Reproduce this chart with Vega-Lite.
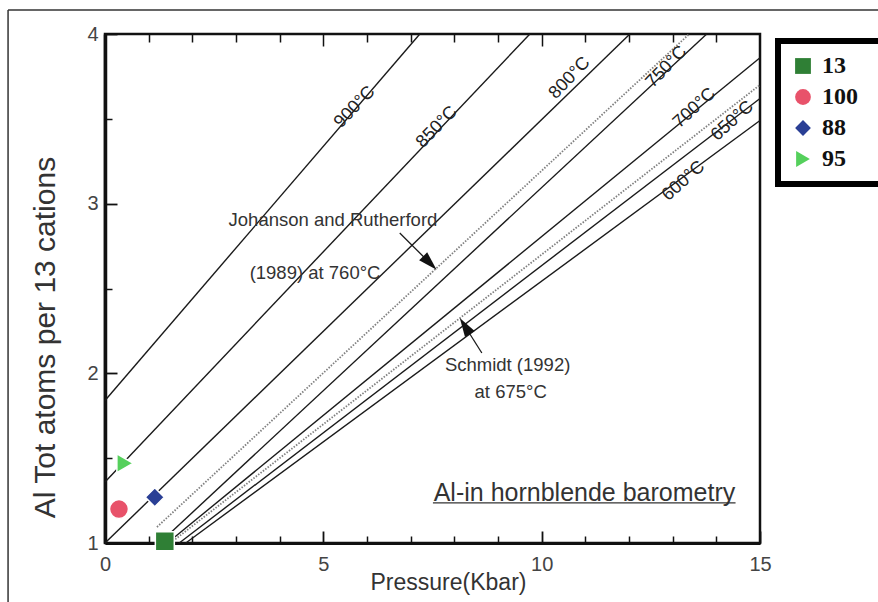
{
  "$schema": "https://vega.github.io/schema/vega-lite/v6.json",
  "width": 655,
  "height": 509,
  "autosize": {"type": "none"},
  "padding": {"left": 105, "top": 34, "right": 118, "bottom": 59},
  "background": "white",
  "resolve": {"axis": {"x": "independent", "y": "independent"}},
  "datasets": {
    "lines": [
      {"line": "900", "kind": "isotherm", "P": 0, "Al": 1.84},
      {"line": "900", "kind": "isotherm", "P": 7.21, "Al": 4},
      {"line": "850", "kind": "isotherm", "P": 0, "Al": 1.36},
      {"line": "850", "kind": "isotherm", "P": 9.73, "Al": 4},
      {"line": "800", "kind": "isotherm", "P": 0, "Al": 1.0},
      {"line": "800", "kind": "isotherm", "P": 12.02, "Al": 4},
      {"line": "750", "kind": "isotherm", "P": 1.25, "Al": 1.0},
      {"line": "750", "kind": "isotherm", "P": 13.78, "Al": 4},
      {"line": "700", "kind": "isotherm", "P": 1.43, "Al": 1.0},
      {"line": "700", "kind": "isotherm", "P": 15, "Al": 3.86},
      {"line": "650", "kind": "isotherm", "P": 1.7, "Al": 1.0},
      {"line": "650", "kind": "isotherm", "P": 15, "Al": 3.62},
      {"line": "600", "kind": "isotherm", "P": 1.85, "Al": 1.0},
      {"line": "600", "kind": "isotherm", "P": 15, "Al": 3.49},
      {"line": "Johanson and Rutherford 760", "kind": "calibration", "P": 1.19, "Al": 1.094},
      {"line": "Johanson and Rutherford 760", "kind": "calibration", "P": 13.38, "Al": 4},
      {"line": "Schmidt 675", "kind": "calibration", "P": 1.5, "Al": 1.0},
      {"line": "Schmidt 675", "kind": "calibration", "P": 15, "Al": 3.7}
    ],
    "samples": [
      {"sample": "13", "P": 1.37, "Al": 1.01},
      {"sample": "100", "P": 0.32, "Al": 1.2},
      {"sample": "88", "P": 1.14, "Al": 1.27},
      {"sample": "95", "P": 0.46, "Al": 1.47}
    ],
    "isoLabels": [
      {"label": "900°C", "temp": 900, "P": 5.72, "Al": 3.569},
      {"label": "850°C", "temp": 850, "P": 7.6, "Al": 3.451},
      {"label": "800°C", "temp": 800, "P": 10.64, "Al": 3.74},
      {"label": "750°C", "temp": 750, "P": 12.86, "Al": 3.805},
      {"label": "700°C", "temp": 700, "P": 13.5, "Al": 3.563},
      {"label": "650°C", "temp": 650, "P": 14.37, "Al": 3.487},
      {"label": "600°C", "temp": 600, "P": 13.25, "Al": 3.133}
    ],
    "notes": [
      {"text": "Johanson and Rutherford", "P": 5.22, "Al": 2.903},
      {"text": "(1989) at 760°C", "P": 4.81, "Al": 2.591},
      {"text": "Schmidt (1992)", "P": 9.22, "Al": 2.049},
      {"text": "at 675°C", "P": 9.29, "Al": 1.89}
    ],
    "shafts": [
      {"arrow": "Johanson and Rutherford", "P": 6.75, "Al": 2.827, "P2": 7.44, "Al2": 2.65},
      {"arrow": "Schmidt", "P": 8.63, "Al": 2.12, "P2": 8.24, "Al2": 2.279}
    ],
    "frame": [
      {"P": -2.22, "P2": 18, "Al": 4.141, "Al2": 4.141},
      {"P": -2.22, "P2": -2.22, "Al": 4.141, "Al2": 0.5}
    ]
  },
  "layer": [
    {
      "data": {"name": "frame"},
      "mark": {"type": "rule", "color": "#333", "strokeWidth": 1.5, "clip": false},
      "encoding": {
        "x": {"field": "P", "type": "quantitative", "scale": {"domain": [0, 15], "nice": false, "zero": false}, "axis": null},
        "x2": {"field": "P2"},
        "y": {"field": "Al", "type": "quantitative", "scale": {"domain": [1, 4], "nice": false, "zero": false}, "axis": null},
        "y2": {"field": "Al2"}
      }
    },
    {
      "data": {"name": "lines"},
      "transform": [{"filter": "datum.kind == 'isotherm'"}],
      "mark": {"type": "line", "color": "#1a1a1a", "strokeWidth": 1.4},
      "encoding": {
        "x": {
          "field": "P", "type": "quantitative",
          "scale": {"domain": [0, 15], "nice": false, "zero": false},
          "axis": {
            "orient": "bottom",
            "values": [0, 5, 10, 15],
            "tickSize": -12,
            "tickColor": "#111", "tickWidth": 1.8,
            "domainColor": "#111", "domainWidth": 3,
            "grid": false,
            "labelFont": "Liberation Sans", "labelFontSize": 20, "labelColor": "#444",
            "labelPadding": 23, "labelFlush": false, "labelOverlap": false,
            "title": "Pressure(Kbar)",
            "titleFont": "Liberation Sans", "titleFontSize": 23, "titleFontWeight": "normal", "titleColor": "#333",
            "titleX": 343, "titleY": 39, "titleAlign": "center", "titleBaseline": "middle"
          }
        },
        "y": {
          "field": "Al", "type": "quantitative",
          "scale": {"domain": [1, 4], "nice": false, "zero": false},
          "axis": {
            "orient": "left",
            "values": [1, 2, 3, 4],
            "tickSize": -12,
            "tickColor": "#111", "tickWidth": 1.8,
            "domainColor": "#111", "domainWidth": 3.5,
            "grid": false,
            "labelFont": "Liberation Sans", "labelFontSize": 20, "labelColor": "#444",
            "labelPadding": 19, "labelFlush": false, "labelOverlap": false,
            "title": "Al Tot atoms per 13 cations",
            "titleFont": "Liberation Sans", "titleFontSize": 30, "titleFontWeight": "normal", "titleColor": "#333",
            "titleX": -60, "titleY": 303, "titleAngle": 270, "titleAlign": "center", "titleBaseline": "middle"
          }
        },
        "detail": {"field": "line"}
      }
    },
    {
      "data": {"name": "lines"},
      "transform": [{"filter": "datum.kind == 'calibration'"}],
      "mark": {"type": "line", "color": "#808080", "strokeWidth": 1.8, "strokeDash": [1.5, 1.5]},
      "encoding": {
        "x": {
          "field": "P", "type": "quantitative", "scale": {"domain": [0, 15], "nice": false, "zero": false},
          "axis": {
            "orient": "bottom", "values": [1, 2, 3, 4, 6, 7, 8, 9, 11, 12, 13, 14],
            "tickSize": -7, "tickColor": "#111", "tickWidth": 1.5,
            "labels": false, "domain": false, "grid": false, "title": null
          }
        },
        "y": {
          "field": "Al", "type": "quantitative", "scale": {"domain": [1, 4], "nice": false, "zero": false},
          "axis": {
            "orient": "left", "values": [1.5, 2.5, 3.5],
            "tickSize": -7, "tickColor": "#111", "tickWidth": 1.5,
            "labels": false, "domain": false, "grid": false, "title": null
          }
        },
        "detail": {"field": "line"}
      }
    },
    {
      "data": {"name": "shafts"},
      "mark": {"type": "rule", "color": "#1a1a1a", "strokeWidth": 1.3},
      "encoding": {
        "x": {
          "field": "P", "type": "quantitative", "scale": {"domain": [0, 15], "nice": false, "zero": false},
          "axis": {
            "orient": "top", "values": [5, 10],
            "tickSize": -12, "tickColor": "#111", "tickWidth": 1.5,
            "labels": false, "domain": false, "grid": false, "title": null
          }
        },
        "x2": {"field": "P2"},
        "y": {"field": "Al", "type": "quantitative", "scale": {"domain": [1, 4], "nice": false, "zero": false}, "axis": null},
        "y2": {"field": "Al2"}
      }
    },
    {
      "data": {"values": [{"arrow": "Johanson and Rutherford", "P": 7.44, "Al": 2.65}]},
      "mark": {"type": "point", "shape": "M0,-1L0.6,1L-0.6,1Z", "size": 360, "filled": true, "color": "#111", "opacity": 1, "angle": 135},
      "encoding": {
        "x": {"field": "P", "type": "quantitative", "scale": {"domain": [0, 15], "nice": false, "zero": false}, "axis": null},
        "y": {"field": "Al", "type": "quantitative", "scale": {"domain": [1, 4], "nice": false, "zero": false}, "axis": null}
      }
    },
    {
      "data": {"values": [{"arrow": "Schmidt", "P": 8.24, "Al": 2.279}]},
      "mark": {"type": "point", "shape": "M0,-1L0.6,1L-0.6,1Z", "size": 360, "filled": true, "color": "#111", "opacity": 1, "angle": 328},
      "encoding": {
        "x": {"field": "P", "type": "quantitative", "scale": {"domain": [0, 15], "nice": false, "zero": false}, "axis": null},
        "y": {"field": "Al", "type": "quantitative", "scale": {"domain": [1, 4], "nice": false, "zero": false}, "axis": null}
      }
    },
    {
      "data": {"name": "isoLabels"},
      "transform": [{"filter": "datum.temp >= 750"}],
      "mark": {"type": "text", "font": "Liberation Sans", "fontSize": 18, "color": "#222", "angle": -46, "align": "center", "baseline": "middle"},
      "encoding": {
        "x": {"field": "P", "type": "quantitative", "scale": {"domain": [0, 15], "nice": false, "zero": false}, "axis": null},
        "y": {"field": "Al", "type": "quantitative", "scale": {"domain": [1, 4], "nice": false, "zero": false}, "axis": null},
        "text": {"field": "label"}
      }
    },
    {
      "data": {"name": "isoLabels"},
      "transform": [{"filter": "datum.temp < 750"}],
      "mark": {"type": "text", "font": "Liberation Sans", "fontSize": 18, "color": "#222", "angle": -42, "align": "center", "baseline": "middle"},
      "encoding": {
        "x": {"field": "P", "type": "quantitative", "scale": {"domain": [0, 15], "nice": false, "zero": false}, "axis": null},
        "y": {"field": "Al", "type": "quantitative", "scale": {"domain": [1, 4], "nice": false, "zero": false}, "axis": null},
        "text": {"field": "label"}
      }
    },
    {
      "data": {"name": "notes"},
      "mark": {"type": "text", "font": "Liberation Sans", "fontSize": 18.5, "color": "#333", "align": "center", "baseline": "middle"},
      "encoding": {
        "x": {"field": "P", "type": "quantitative", "scale": {"domain": [0, 15], "nice": false, "zero": false}, "axis": null},
        "y": {"field": "Al", "type": "quantitative", "scale": {"domain": [1, 4], "nice": false, "zero": false}, "axis": null},
        "text": {"field": "text"}
      }
    },
    {
      "data": {"values": [{"text": "Al-in hornblende barometry", "P": 10.98, "Al": 1.295}]},
      "mark": {"type": "text", "font": "Liberation Sans", "fontSize": 25, "color": "#333", "align": "center", "baseline": "middle"},
      "encoding": {
        "x": {"field": "P", "type": "quantitative", "scale": {"domain": [0, 15], "nice": false, "zero": false}, "axis": null},
        "y": {"field": "Al", "type": "quantitative", "scale": {"domain": [1, 4], "nice": false, "zero": false}, "axis": null},
        "text": {"field": "text"}
      }
    },
    {
      "data": {"values": [{"P": 7.51, "P2": 14.44, "Al": 1.236}]},
      "mark": {"type": "rule", "color": "#333", "strokeWidth": 1.3},
      "encoding": {
        "x": {
          "field": "P", "type": "quantitative",
          "scale": {"domain": [0, 15], "nice": false, "zero": false},
          "axis": {
            "orient": "top",
            "values": [1, 2, 3, 4, 6, 7, 8, 9, 11, 12, 13, 14],
            "labels": false, "domain": false, "grid": false, "title": null,
            "tickSize": -8, "tickColor": "#111", "tickWidth": 1.5
          }
        },
        "x2": {"field": "P2"},
        "y": {"field": "Al", "type": "quantitative", "scale": {"domain": [1, 4], "nice": false, "zero": false}, "axis": null}
      }
    },
    {
      "data": {"name": "samples"},
      "mark": {"type": "point", "filled": true, "size": 360, "opacity": 1, "stroke": "white", "strokeWidth": 1.5},
      "encoding": {
        "x": {"field": "P", "type": "quantitative", "scale": {"domain": [0, 15], "nice": false, "zero": false}, "axis": null},
        "y": {"field": "Al", "type": "quantitative", "scale": {"domain": [1, 4], "nice": false, "zero": false}, "axis": null},
        "color": {
          "field": "sample", "type": "nominal",
          "scale": {"domain": ["13", "100", "88", "95"], "range": ["#2f7f35", "#e8526a", "#2a3f95", "#55d05c"]},
          "legend": {
            "orient": "none", "legendX": 673, "legendY": 7,
            "title": "M", "titleOrient": "right", "titleFontSize": 12, "titleColor": "white", "titlePadding": 4,
            "strokeColor": "#000", "fillColor": "white", "padding": 13,
            "labelFont": "Liberation Serif", "labelFontWeight": "bold", "labelFontSize": 24, "labelColor": "#111",
            "symbolSize": 250, "rowPadding": 7, "labelOffset": 7, "symbolStrokeWidth": 0
          }
        },
        "shape": {
          "field": "sample", "type": "nominal",
          "scale": {"domain": ["13", "100", "88", "95"], "range": ["square", "circle", "diamond", "triangle-right"]}
        }
      }
    }
  ],
  "config": {
    "view": {"stroke": "#111", "strokeWidth": 2.5},
    "font": "Liberation Sans",
    "legend": {"strokeWidth": 6}
  }
}
